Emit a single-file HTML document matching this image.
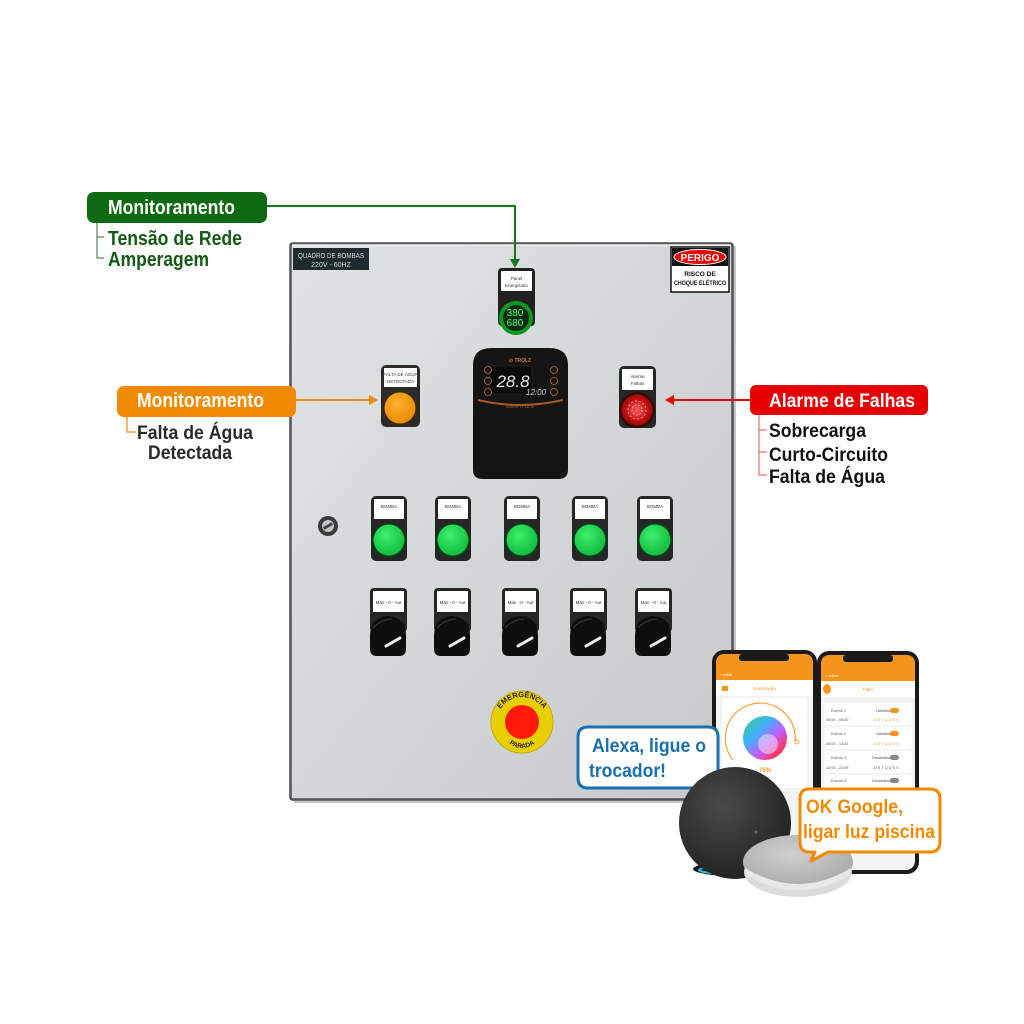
<!DOCTYPE html>
<html><head><meta charset="utf-8">
<style>
html,body{margin:0;padding:0;background:#fff;width:1024px;height:1024px;overflow:hidden}
svg{position:absolute;left:0;top:0}
text{font-family:"Liberation Sans",Arial,sans-serif}
</style></head>
<body>
<svg width="1024" height="1024" viewBox="0 0 1024 1024" xmlns="http://www.w3.org/2000/svg">
<defs>
<linearGradient id="pg" x1="0" y1="0" x2="1" y2="1">
<stop offset="0" stop-color="#e0e4e5"/><stop offset="0.5" stop-color="#d3d7d8"/><stop offset="1" stop-color="#c6cacb"/>
</linearGradient>
<radialGradient id="gb" cx="0.4" cy="0.35" r="0.7"><stop offset="0" stop-color="#3cf06a"/><stop offset="1" stop-color="#0fb83c"/></radialGradient>
<radialGradient id="ob" cx="0.4" cy="0.35" r="0.7"><stop offset="0" stop-color="#ffb030"/><stop offset="1" stop-color="#e88a00"/></radialGradient>
<radialGradient id="rb" cx="0.5" cy="0.5" r="0.6"><stop offset="0" stop-color="#ff5a5a"/><stop offset="0.6" stop-color="#c01010"/><stop offset="1" stop-color="#7a0808"/></radialGradient>
<radialGradient id="echo" cx="0.4" cy="0.35" r="0.75"><stop offset="0" stop-color="#4a4a4a"/><stop offset="1" stop-color="#1e1e1e"/></radialGradient>
<radialGradient id="nest" cx="0.45" cy="0.35" r="0.75"><stop offset="0" stop-color="#d0d0d0"/><stop offset="1" stop-color="#a4a4a4"/></radialGradient>
<linearGradient id="wheel" x1="0" y1="0" x2="1" y2="1"><stop offset="0" stop-color="#3cd070"/><stop offset="0.35" stop-color="#40b0ff"/><stop offset="0.6" stop-color="#c060ff"/><stop offset="0.85" stop-color="#ff3050"/><stop offset="1" stop-color="#ffd020"/></linearGradient>
</defs>

<!-- Panel -->
<rect x="294" y="246" width="442" height="557" fill="#8a8e90" opacity="0.5"/>
<rect x="290.5" y="243.5" width="442" height="556" fill="url(#pg)" stroke="#505456" stroke-width="2.5" rx="2"/>
<line x1="292" y1="245" x2="731" y2="245" stroke="#f2f4f4" stroke-width="1.5"/>

<!-- plate -->
<rect x="293" y="248" width="76" height="22" fill="#1f2b2e"/>
<text x="331" y="258" font-size="7" fill="#d8dcdc" text-anchor="middle" textLength="66" lengthAdjust="spacingAndGlyphs">QUADRO DE BOMBAS</text>
<text x="331" y="267" font-size="7" fill="#d8dcdc" text-anchor="middle">220V - 60HZ</text>

<!-- PERIGO sign -->
<rect x="671" y="247" width="58" height="45" fill="#fff" stroke="#111" stroke-width="1.5"/>
<rect x="672" y="248" width="56" height="18" fill="#111"/>
<ellipse cx="700" cy="257" rx="26" ry="7.5" fill="#e00" stroke="#fff" stroke-width="1"/>
<text x="700" y="261" font-size="10" font-weight="bold" fill="#fff" text-anchor="middle">PERIGO</text>
<text x="700" y="276" font-size="6.5" font-weight="bold" fill="#111" text-anchor="middle">RISCO DE</text>
<text x="700" y="285" font-size="6.5" font-weight="bold" fill="#111" text-anchor="middle" textLength="52" lengthAdjust="spacingAndGlyphs">CHOQUE ELÉTRICO</text>

<!-- Panel energizado indicator -->
<rect x="498" y="268" width="37" height="58" rx="4" fill="#222"/>
<rect x="501" y="271" width="31" height="20" fill="#fff"/>
<text x="516.5" y="280" font-size="4.5" fill="#333" text-anchor="middle">Panel</text>
<text x="516.5" y="287" font-size="4.5" fill="#333" text-anchor="middle">Energizado</text>
<circle cx="516" cy="318" r="17" fill="#0a9a20"/>
<circle cx="516" cy="318" r="13" fill="#082a10"/>
<text x="515" y="316" font-size="10" fill="#4dff6a" text-anchor="middle" font-family="Liberation Mono">380</text>
<text x="515" y="326" font-size="10" fill="#4dff6a" text-anchor="middle" font-family="Liberation Mono">680</text>

<!-- Falta de agua indicator -->
<rect x="381" y="365" width="39" height="62" rx="5" fill="#2a2a2a"/>
<rect x="384" y="368" width="33" height="19" fill="#fff"/>
<text x="400.5" y="376" font-size="4.5" fill="#333" text-anchor="middle">FALTA DE ÁGUA</text>
<text x="400.5" y="383" font-size="4.5" fill="#333" text-anchor="middle">DETECTADA</text>
<circle cx="400" cy="408" r="18" fill="#3a2a10"/>
<circle cx="400" cy="408" r="15.5" fill="url(#ob)"/>

<!-- Controller -->
<path d="M473,365 Q473,348 492,348 L549,348 Q568,348 568,365 L568,470 Q568,479 558,479 L483,479 Q473,479 473,470 Z" fill="#141414"/>
<text x="520" y="362" font-size="5" fill="#d07a20" text-anchor="middle" font-weight="bold">⊙ TROLZ</text>
<rect x="490" y="366" width="42" height="28" fill="#0a0a0a" stroke="#333" stroke-width="0.5"/>
<text x="513" y="387" font-size="17" fill="#e8e8e8" text-anchor="middle" font-style="italic">28.8</text>
<text x="526" y="395" font-size="8" fill="#cfcfcf" font-style="italic">12:00</text>
<circle cx="488" cy="370" r="3.5" fill="none" stroke="#c06a20" stroke-width="0.8"/>
<circle cx="488" cy="381" r="3.5" fill="none" stroke="#c06a20" stroke-width="0.8"/>
<circle cx="488" cy="392" r="3.5" fill="none" stroke="#c06a20" stroke-width="0.8"/>
<circle cx="554" cy="370" r="3.5" fill="none" stroke="#c06a20" stroke-width="0.8"/>
<circle cx="554" cy="381" r="3.5" fill="none" stroke="#c06a20" stroke-width="0.8"/>
<circle cx="554" cy="392" r="3.5" fill="none" stroke="#c06a20" stroke-width="0.8"/>
<path d="M478,400 Q520,410 563,400" fill="none" stroke="#a85a20" stroke-width="2"/>
<text x="520" y="408" font-size="4.5" fill="#a06030" text-anchor="middle">SMARTPOOL</text>

<!-- Alarm indicator -->
<rect x="619" y="366" width="37" height="62" rx="5" fill="#262626"/>
<rect x="622" y="369" width="31" height="21" fill="#fff"/>
<text x="637.5" y="378" font-size="4.5" fill="#333" text-anchor="middle">Alarme</text>
<text x="637.5" y="385" font-size="4.5" fill="#333" text-anchor="middle">Falhas</text>
<circle cx="637" cy="410" r="18" fill="#3a0a0a"/>
<circle cx="637" cy="410" r="15.5" fill="url(#rb)"/>
<circle cx="637" cy="410" r="9" fill="none" stroke="#ff9090" stroke-width="1" stroke-dasharray="2 2"/>
<circle cx="637" cy="410" r="5" fill="none" stroke="#ffb0b0" stroke-width="1" stroke-dasharray="2 1.5"/>

<!-- lock -->
<circle cx="328" cy="526" r="10" fill="#3a3a3a"/>
<circle cx="328" cy="526" r="6" fill="#bfc4c6"/>
<rect x="323" y="524.5" width="10" height="3" fill="#444" transform="rotate(-30 328 526)"/>

<!-- BOMBA row -->
<g id="b1">
<rect x="371" y="496" width="36" height="65" rx="5" fill="#262626"/>
<rect x="374" y="499" width="30" height="20" fill="#fff"/>
<text x="389" y="508" font-size="4.5" fill="#333" text-anchor="middle">BOMBA</text>
<circle cx="389" cy="540" r="17.5" fill="#0d3a18"/>
<circle cx="389" cy="540" r="15.5" fill="url(#gb)"/>
</g>
<use href="#b1" x="64"/>
<use href="#b1" x="133"/>
<use href="#b1" x="201"/>
<use href="#b1" x="266"/>

<!-- Selector row -->
<g id="s1">
<rect x="370" y="588" width="37" height="44" rx="4" fill="#262626"/>
<rect x="373" y="591" width="31" height="21" fill="#fff"/>
<text x="388.5" y="604" font-size="4.5" fill="#333" text-anchor="middle">Man - 0 - Aut</text>
<path d="M370,649 L370,636 Q370,617 388,616 Q406,617 406,636 L406,649 Q406,656 399,656 L377,656 Q370,656 370,649 Z" fill="#0e0e0e"/>
<path d="M373,628 Q380,620 392,619" fill="none" stroke="#3a3a3a" stroke-width="1"/>
<line x1="386" y1="646" x2="400" y2="638" stroke="#f0f0f0" stroke-width="3" stroke-linecap="round"/>
</g>
<use href="#s1" x="64"/>
<use href="#s1" x="132"/>
<use href="#s1" x="200"/>
<use href="#s1" x="265"/>

<!-- Emergency -->
<circle cx="522" cy="722" r="31" fill="#e7cf00" stroke="#c4ac00" stroke-width="1"/>
<circle cx="522" cy="722" r="17" fill="#ff1a0a"/>
<path id="arcT" d="M497,722 A25,25 0 0 1 547,722" fill="none"/>
<path id="arcB" d="M502,728 A20,20 0 0 0 542,728" fill="none"/>
<text font-size="7.5" font-weight="bold" fill="#2a1a00"><textPath href="#arcT" startOffset="50%" text-anchor="middle">EMERGÊNCIA</textPath></text>
<text font-size="6.5" font-weight="bold" fill="#2a1a00"><textPath href="#arcB" startOffset="50%" text-anchor="middle">PARADA</textPath></text>

<!-- Green callout -->
<rect x="87" y="192" width="180" height="31" rx="7" fill="#0d6a12"/>
<text x="108" y="214" font-size="20" font-weight="bold" fill="#fff" textLength="127" lengthAdjust="spacingAndGlyphs">Monitoramento</text>
<polyline points="267,206 515,206 515,262" fill="none" stroke="#137a18" stroke-width="2"/>
<polygon points="510,259 520,259 515,268" fill="#137a18"/>
<polyline points="104,237 97,237 97,258 104,258" fill="none" stroke="#3a6a3a" stroke-width="1"/>
<line x1="97" y1="223" x2="97" y2="237" stroke="#3a6a3a" stroke-width="1"/>
<text x="108" y="245" font-size="20" font-weight="bold" fill="#135a16" textLength="134" lengthAdjust="spacingAndGlyphs">Tensão de Rede</text>
<text x="108" y="266" font-size="20" font-weight="bold" fill="#135a16" textLength="101" lengthAdjust="spacingAndGlyphs">Amperagem</text>

<!-- Orange callout -->
<rect x="117" y="386" width="179" height="31" rx="7" fill="#f28a00"/>
<text x="137" y="407" font-size="20" font-weight="bold" fill="#fff" textLength="127" lengthAdjust="spacingAndGlyphs">Monitoramento</text>
<line x1="296" y1="400" x2="372" y2="400" stroke="#f28a00" stroke-width="2"/>
<polygon points="369,395 378,400 369,405" fill="#f28a00"/>
<polyline points="127,417 127,432 136,432" fill="none" stroke="#f28a00" stroke-width="1.2"/>
<text x="137" y="439" font-size="19" font-weight="bold" fill="#2a2a2a" textLength="116" lengthAdjust="spacingAndGlyphs">Falta de Água</text>
<text x="148" y="459" font-size="19" font-weight="bold" fill="#2a2a2a" textLength="84" lengthAdjust="spacingAndGlyphs">Detectada</text>

<!-- Red callout -->
<rect x="750" y="385" width="178" height="30" rx="6" fill="#e60000"/>
<text x="769" y="407" font-size="19" font-weight="bold" fill="#fff" textLength="146" lengthAdjust="spacingAndGlyphs">Alarme de Falhas</text>
<line x1="750" y1="400" x2="672" y2="400" stroke="#e60000" stroke-width="2"/>
<polygon points="674,395 665,400 674,405" fill="#e60000"/>
<polyline points="759,415 759,475 767,475" fill="none" stroke="#e05050" stroke-width="1"/>
<line x1="759" y1="430" x2="767" y2="430" stroke="#e05050" stroke-width="1"/>
<line x1="759" y1="452" x2="767" y2="452" stroke="#e05050" stroke-width="1"/>
<text x="769" y="437" font-size="19" font-weight="bold" fill="#111" textLength="97" lengthAdjust="spacingAndGlyphs">Sobrecarga</text>
<text x="769" y="461" font-size="19" font-weight="bold" fill="#111" textLength="119" lengthAdjust="spacingAndGlyphs">Curto-Circuito</text>
<text x="769" y="483" font-size="19" font-weight="bold" fill="#111" textLength="116" lengthAdjust="spacingAndGlyphs">Falta de Água</text>

<!-- Phone 2 -->
<rect x="817" y="651" width="102" height="223" rx="12" fill="#1a1a1a"/>
<rect x="821" y="655" width="94" height="215" rx="9" fill="#f4f4f4"/>
<path d="M821,664 Q821,655 830,655 L906,655 Q915,655 915,664 L915,681 L821,681 Z" fill="#f7941d"/>
<rect x="843" y="655" width="50" height="7" rx="3" fill="#1a1a1a"/>
<text x="826" y="677" font-size="4" fill="#fff">‹ voltar</text>
<rect x="821" y="681" width="94" height="16" fill="#fff"/>
<ellipse cx="827" cy="689" rx="4" ry="5" fill="#f7941d"/>
<text x="868" y="691" font-size="4.5" fill="#f7941d" text-anchor="middle">Filtro</text>
<g font-size="3.8" fill="#555">
<rect x="824" y="703" width="88" height="22" rx="3" fill="#fff"/>
<text x="831" y="712">Evento 1</text><text x="876" y="712">Habilitado</text>
<rect x="890" y="708" width="9" height="5" rx="2.5" fill="#f7941d"/>
<text x="826" y="721">05:00 - 06:00</text><text x="874" y="721" fill="#f7941d">D S T Q Q S S</text>
<rect x="824" y="727" width="88" height="22" rx="3" fill="#fff"/>
<text x="831" y="735">Evento 2</text><text x="876" y="735">Habilitado</text>
<rect x="890" y="731" width="9" height="5" rx="2.5" fill="#f7941d"/>
<text x="826" y="745">08:00 - 14:42</text><text x="874" y="745" fill="#f7941d">D S T Q Q S S</text>
<rect x="824" y="751" width="88" height="22" rx="3" fill="#fff"/>
<text x="831" y="759">Evento 3</text><text x="872" y="759">Desabilitado</text>
<rect x="890" y="755" width="9" height="5" rx="2.5" fill="#888"/>
<text x="826" y="769">12:00 - 23:59</text><text x="874" y="769">D S T Q Q S S</text>
<rect x="824" y="775" width="88" height="22" rx="3" fill="#fff"/>
<text x="831" y="782">Evento 4</text><text x="872" y="782">Desabilitado</text>
<rect x="890" y="778" width="9" height="5" rx="2.5" fill="#888"/>
</g>

<!-- Phone 1 -->
<rect x="712" y="650" width="105" height="222" rx="12" fill="#1a1a1a"/>
<rect x="716" y="654" width="97" height="214" rx="9" fill="#f4f4f4"/>
<path d="M716,663 Q716,654 725,654 L804,654 Q813,654 813,663 L813,680 L716,680 Z" fill="#f7941d"/>
<rect x="739" y="654" width="50" height="7" rx="3" fill="#1a1a1a"/>
<text x="720" y="676" font-size="4" fill="#fff">‹ voltar</text>
<rect x="716" y="680" width="97" height="16" fill="#fff"/>
<rect x="722" y="686" width="6" height="5" fill="#f7941d"/>
<text x="765" y="690" font-size="4.5" fill="#f7941d" text-anchor="middle">Iluminação</text>
<rect x="722" y="698" width="85" height="90" rx="4" fill="#fff"/>
<path d="M733,760 A35,35 0 1 1 795,742" fill="none" stroke="#f7a030" stroke-width="1.2"/>
<circle cx="797" cy="742" r="2" fill="#fff" stroke="#f7a030"/>
<circle cx="765" cy="738" r="22" fill="url(#wheel)"/>
<circle cx="768" cy="744" r="10" fill="#fff" opacity="0.45"/>
<text x="765" y="772" font-size="6" font-weight="bold" fill="#f7941d" text-anchor="middle">75%</text>
<text x="765" y="779" font-size="4" fill="#f7941d" text-anchor="middle">Brilho</text>

<!-- Alexa bubble -->
<path d="M588,727 L708,727 Q718,727 718,737 L718,778 Q718,788 708,788 L712,788 L705,798 L694,788 L588,788 Q578,788 578,778 L578,737 Q578,727 588,727 Z" fill="#fff" stroke="#1a6fb0" stroke-width="3" stroke-linejoin="round"/>
<text x="592" y="752" font-size="19" font-weight="bold" fill="#1a6fb0" textLength="114" lengthAdjust="spacingAndGlyphs">Alexa, ligue o</text>
<text x="589" y="777" font-size="19" font-weight="bold" fill="#1a6fb0" textLength="77" lengthAdjust="spacingAndGlyphs">trocador!</text>

<!-- Echo dot -->
<ellipse cx="735" cy="869" rx="42" ry="7" fill="#111"/>
<ellipse cx="735" cy="870" rx="36" ry="4" fill="none" stroke="#2fb8e8" stroke-width="2"/>
<circle cx="735" cy="823" r="56" fill="url(#echo)"/>
<circle cx="756" cy="832" r="1.5" fill="#666"/>

<!-- Nest mini -->
<ellipse cx="798" cy="872" rx="54" ry="25" fill="#dcdcdc"/>
<ellipse cx="798" cy="862" rx="55" ry="27" fill="url(#nest)"/>
<path d="M745,868 Q798,900 851,868 L849,875 Q798,906 747,875 Z" fill="#e8e8e8"/>

<!-- Google bubble -->
<path d="M809,789 L930,789 Q940,789 940,799 L940,842 Q940,852 930,852 L828,852 L811,861 L815,852 L809,852 Q800,852 800,842 L800,799 Q800,789 809,789 Z" fill="#fff" stroke="#f28a00" stroke-width="3" stroke-linejoin="round"/>
<text x="806" y="813" font-size="19" font-weight="bold" fill="#f28a00" textLength="97" lengthAdjust="spacingAndGlyphs">OK Google,</text>
<text x="803" y="838" font-size="19" font-weight="bold" fill="#f28a00" textLength="132" lengthAdjust="spacingAndGlyphs">ligar luz piscina</text>
</svg>
</body></html>
